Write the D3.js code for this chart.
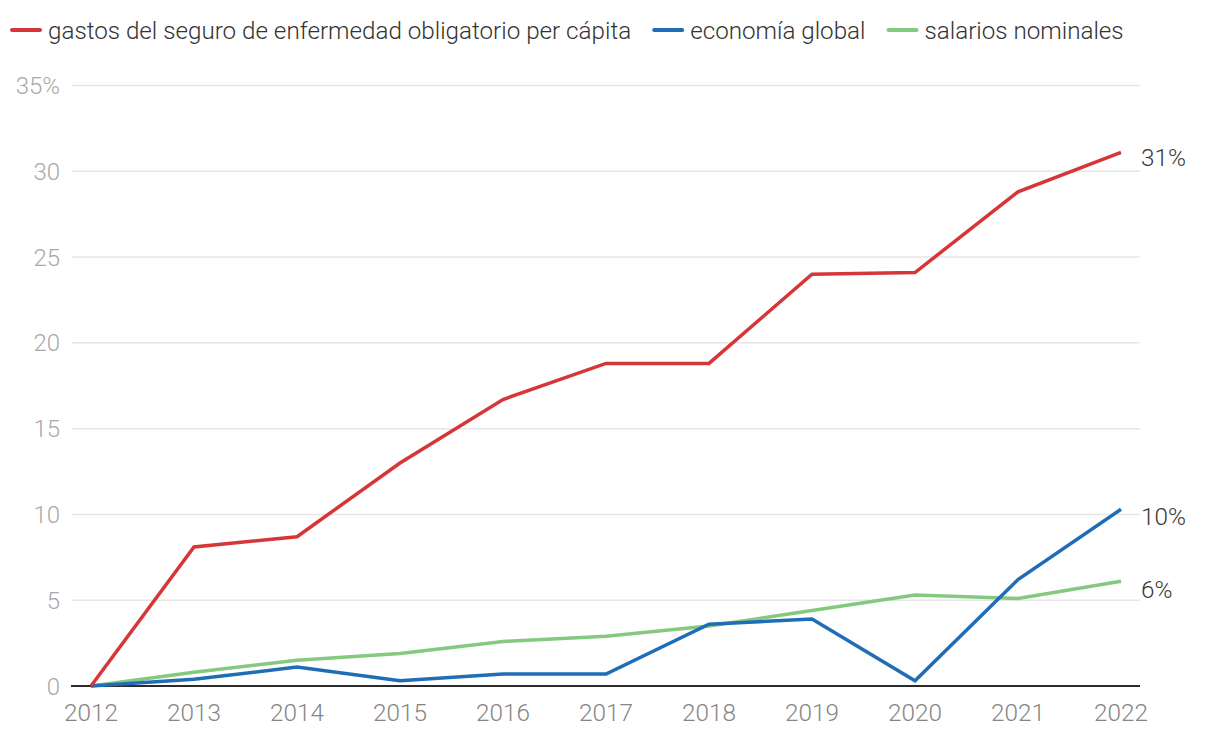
<!DOCTYPE html>
<html><head><meta charset="utf-8">
<script src="https://cdn.jsdelivr.net/npm/d3@7"></script>
<style>
html,body{margin:0;padding:0;background:#fff;}
svg{display:block;font-family:Roboto,"Noto Sans",sans-serif;}
</style></head>
<body>
<svg id="c" width="1220" height="738"></svg>
<script>
const years = [2012,2013,2014,2015,2016,2017,2018,2019,2020,2021,2022];
const gastos = [0,8.1,8.7,13.0,16.7,18.8,18.8,24.0,24.1,28.8,31.1];
const economia = [0,0.4,1.1,0.3,0.7,0.7,3.6,3.9,0.3,6.2,10.3];
const salarios = [0,0.8,1.5,1.9,2.6,2.9,3.5,4.4,5.3,5.1,6.1];
const seriesNames = ["gastos del seguro de enfermedad obligatorio per cápita","economía global","salarios nominales"];
const seriesColors = ["#d63638","#1f6db7","#85c97f"];
const endLabels = ["31%","10%","6%"];
const yTicks = [0,5,10,15,20,25,30,35];

const svg = d3.select("#c");
const x = d3.scaleLinear().domain([2012,2022]).range([91,1121]);
const y = d3.scaleLinear().domain([0,35]).range([686,85.5]);
const right = 1140;

const g = svg.append("g");
yTicks.forEach(t=>{
  const top = t===35;
  if(t!==0){
    g.append("line").attr("x1", 72).attr("x2", right)
      .attr("y1", y(t)).attr("y2", y(t))
      .attr("stroke","#e6e6e6").attr("stroke-width",1.5);
  }
  g.append("text").attr("x", 60).attr("y", y(t)).attr("dy","0.36em")
    .attr("text-anchor","end").attr("font-size",24).attr("font-weight",300)
    .attr("fill","#a8a8a8").text(top? t+"%" : t);
});

years.forEach(yr=>{
  svg.append("text").attr("x", x(yr)).attr("y", 721)
    .attr("text-anchor","middle").attr("font-size",24.3).attr("font-weight",300)
    .attr("fill","#858585").text(yr);
});

svg.append("line").attr("x1",71).attr("x2",right).attr("y1",y(0)).attr("y2",y(0))
  .attr("stroke","#2b2b2b").attr("stroke-width",2);

const data = [gastos, economia, salarios];
const line = d3.line().x((d,i)=>x(years[i])).y(d=>y(d));
[2,1,0].forEach(k=>{
  svg.append("path").datum(data[k]).attr("d", line)
    .attr("fill","none").attr("stroke", seriesColors[k])
    .attr("stroke-width",3.5).attr("stroke-linejoin","miter");
});

const labelShift = [5,7,8];
data.forEach((arr,k)=>{
  svg.append("text").attr("x", 1141).attr("y", y(arr[arr.length-1]) + labelShift[k])
    .attr("dy","0.36em").attr("font-size",24.3).attr("font-weight",300)
    .attr("fill","#3a3a3a").text(endLabels[k]);
});

let lx = 10;
seriesNames.forEach((n,k)=>{
  svg.append("line").attr("x1",lx+2).attr("x2",lx+30).attr("y1",30).attr("y2",30)
    .attr("stroke",seriesColors[k]).attr("stroke-width",4).attr("stroke-linecap","round");
  const t = svg.append("text").attr("x",lx+38).attr("y",30).attr("dy","0.36em")
    .attr("font-size",24.2).attr("font-weight",300).attr("fill","#333").text(n);
  lx = lx + 38 + t.node().getComputedTextLength() + 21;
});
</script>
</body></html>
